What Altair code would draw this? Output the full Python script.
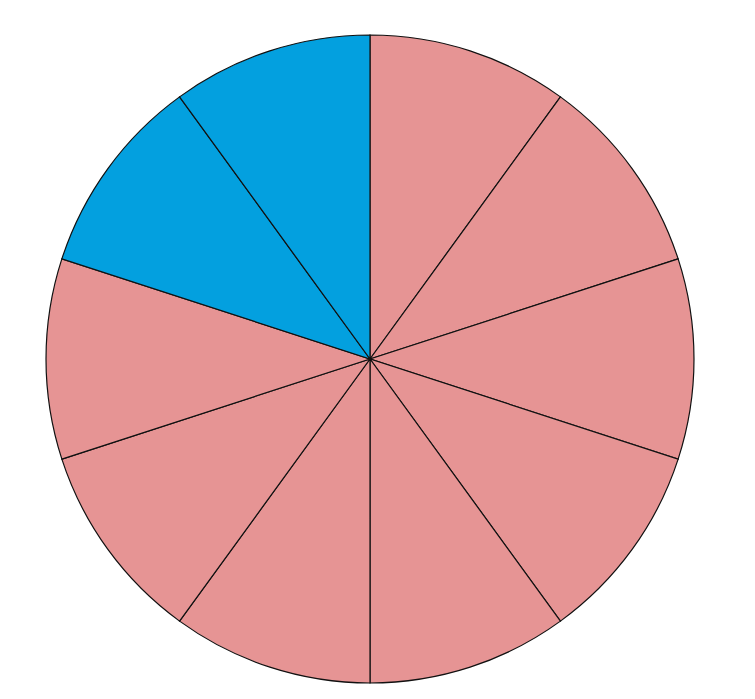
import altair as alt
import pandas as pd

slices = ["S1", "S2", "S3", "S4", "S5", "S6", "S7", "S8", "S9", "S10"]
values = [1, 1, 1, 1, 1, 1, 1, 1, 1, 1]
groups = ["A", "A", "A", "A", "A", "A", "A", "A", "B", "B"]

df = pd.DataFrame({"slice": slices, "value": values, "group": groups,
                   "order": list(range(len(slices)))})

chart = alt.Chart(df).mark_arc(
    stroke="#111111", strokeWidth=1.2, outerRadius=324
).encode(
    theta=alt.Theta("value:Q", stack=True),
    order=alt.Order("order:Q"),
    color=alt.Color("group:N",
                    scale=alt.Scale(domain=["A", "B"], range=["#E69494", "#03A0DF"]),
                    legend=None),
).properties(
    width=648, height=648,
    padding={"left": 35, "top": 24, "right": 0, "bottom": 0},
).configure_view(stroke=None)

chart.save("out.html", embed_options={"renderer": "svg", "actions": False})
